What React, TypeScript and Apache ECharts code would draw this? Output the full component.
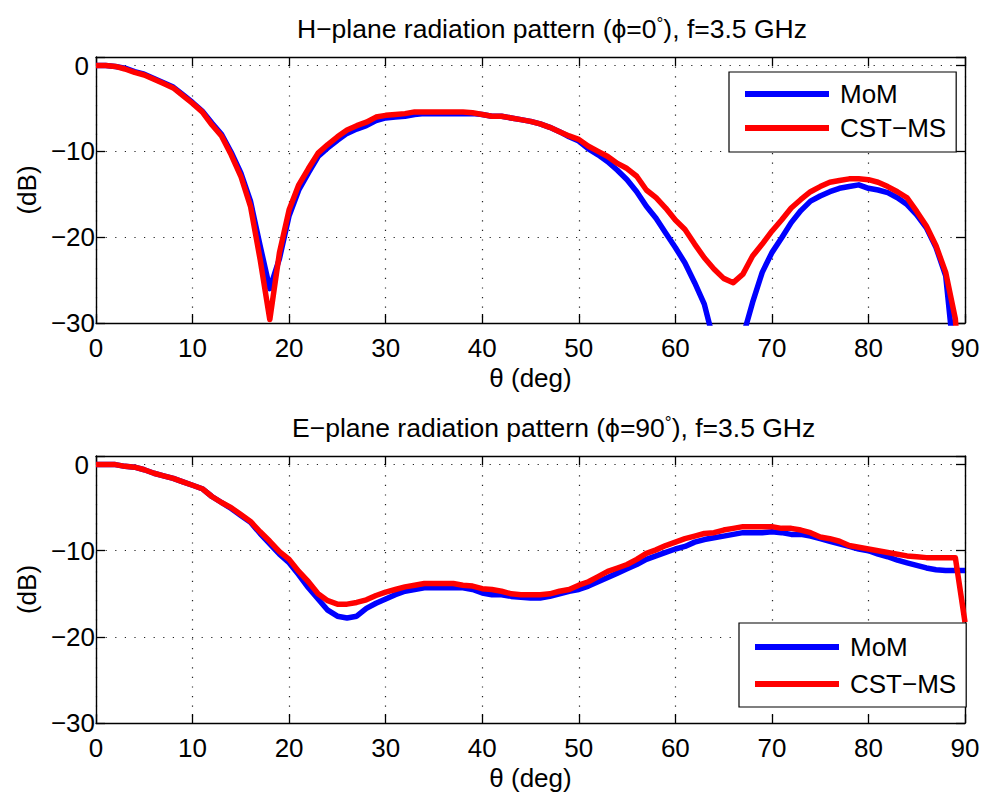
import React, { useEffect, useRef } from 'react';
import * as echarts from 'echarts';

const theta = [0, 1, 2, 3, 4, 5, 6, 7, 8, 9, 10, 11, 12, 13, 14, 15, 16, 17, 18, 19, 20, 21, 22, 23, 24, 25, 26, 27, 28, 29, 30, 31, 32, 33, 34, 35, 36, 37, 38, 39, 40, 41, 42, 43, 44, 45, 46, 47, 48, 49, 50, 51, 52, 53, 54, 55, 56, 57, 58, 59, 60, 61, 62, 63, 64, 65, 66, 67, 68, 69, 70, 71, 72, 73, 74, 75, 76, 77, 78, 79, 80, 81, 82, 83, 84, 85, 86, 87, 88, 89, 90];

// H-plane (phi = 0 deg)
const hMoM = [0, 0, -0.1, -0.3, -0.7, -1.0, -1.5, -2.0, -2.5, -3.4, -4.3, -5.3, -6.7, -8.0, -10.1, -12.5, -15.8, -21.0, -26.0, -22.5, -17.5, -14.5, -12.5, -10.6, -9.6, -8.7, -7.9, -7.4, -7.0, -6.4, -6.1, -6.0, -5.9, -5.7, -5.6, -5.6, -5.6, -5.6, -5.6, -5.6, -5.7, -5.9, -5.9, -6.1, -6.3, -6.5, -6.8, -7.2, -7.7, -8.3, -8.8, -9.7, -10.4, -11.2, -12.2, -13.3, -14.7, -16.4, -17.8, -19.5, -21.2, -23.0, -25.3, -27.8, -32.2, -38.0, -40.0, -31.6, -27.6, -24.1, -21.8, -20.1, -18.3, -16.9, -15.8, -15.2, -14.7, -14.3, -14.1, -13.9, -14.3, -14.5, -14.8, -15.4, -16.2, -17.4, -18.9, -21.2, -24.5, -35.5, -45.0];
const hCST = [0, 0, -0.1, -0.4, -0.8, -1.1, -1.6, -2.1, -2.6, -3.5, -4.4, -5.4, -6.9, -8.2, -10.4, -12.9, -16.4, -22.6, -29.6, -21.8, -16.8, -13.9, -12.0, -10.2, -9.2, -8.3, -7.5, -7.0, -6.6, -6.0, -5.8, -5.7, -5.6, -5.4, -5.4, -5.4, -5.4, -5.4, -5.4, -5.5, -5.7, -5.9, -5.9, -6.1, -6.3, -6.5, -6.8, -7.2, -7.7, -8.2, -8.6, -9.4, -10.0, -10.6, -11.4, -12.0, -12.9, -14.5, -15.4, -16.6, -18.0, -19.1, -20.8, -22.4, -23.7, -24.8, -25.3, -24.3, -22.2, -20.8, -19.3, -18.0, -16.6, -15.6, -14.7, -14.1, -13.6, -13.4, -13.2, -13.2, -13.3, -13.6, -14.1, -14.7, -15.4, -17.0, -18.7, -21.0, -24.1, -29.5, -45.0];

// E-plane (phi = 90 deg)
const eMoM = [0, 0, 0, -0.2, -0.3, -0.6, -1.0, -1.3, -1.6, -2.0, -2.4, -2.8, -3.7, -4.4, -5.1, -5.9, -6.7, -8.0, -9.2, -10.4, -11.4, -12.8, -14.3, -15.6, -16.9, -17.6, -17.8, -17.6, -16.7, -16.1, -15.6, -15.1, -14.7, -14.5, -14.3, -14.3, -14.3, -14.3, -14.3, -14.5, -14.9, -15.1, -15.1, -15.3, -15.4, -15.5, -15.5, -15.3, -15.0, -14.7, -14.5, -14.1, -13.6, -13.1, -12.6, -12.1, -11.6, -11.0, -10.6, -10.2, -9.8, -9.5, -9.0, -8.7, -8.5, -8.3, -8.1, -7.9, -7.9, -7.9, -7.8, -7.9, -8.1, -8.1, -8.3, -8.6, -8.9, -9.2, -9.5, -9.8, -10.0, -10.4, -10.7, -11.1, -11.4, -11.7, -12.0, -12.2, -12.3, -12.3, -12.3];
const eCST = [0, 0, 0, -0.2, -0.3, -0.6, -1.0, -1.3, -1.6, -2.0, -2.4, -2.8, -3.7, -4.4, -5.0, -5.8, -6.6, -7.8, -8.9, -10.1, -11.0, -12.4, -13.6, -15.0, -15.8, -16.2, -16.2, -16.0, -15.7, -15.2, -14.8, -14.5, -14.2, -14.0, -13.8, -13.8, -13.8, -13.8, -14.0, -14.1, -14.4, -14.5, -14.7, -15.0, -15.1, -15.1, -15.1, -15.0, -14.7, -14.5, -14.0, -13.6, -13.0, -12.4, -12.0, -11.6, -11.0, -10.3, -9.9, -9.4, -9.0, -8.6, -8.3, -8.0, -7.9, -7.6, -7.4, -7.2, -7.2, -7.2, -7.2, -7.4, -7.4, -7.6, -7.9, -8.4, -8.6, -8.9, -9.4, -9.6, -9.8, -10.0, -10.2, -10.4, -10.6, -10.7, -10.8, -10.8, -10.8, -10.8, -18.3];

const seriesNames = ['MoM', 'CST\u2212MS'];
const titles = [
  'H\u2212plane radiation pattern (\u03D5=0{s|\u00B0}), f=3.5 GHz',
  'E\u2212plane radiation pattern (\u03D5=90{s|\u00B0}), f=3.5 GHz',
];
const xName = '\u03B8 (deg)';
const yName = '(dB)';

const FONT = '"Liberation Sans", Arial, Helvetica, sans-serif';
const FS = 26;
const TFS = 26.5;

function pairs(vals: number[]) {
  return theta.map((t, i) => [t, vals[i]]);
}

export default function App() {
  const ref = useRef<HTMLDivElement>(null);
  useEffect(() => {
    if (!ref.current) return;
    const chart = echarts.init(ref.current, undefined, { renderer: 'svg' });
    const grids = [
      { left: 96, top: 57, width: 869, height: 266 },
      { left: 96, top: 456, width: 869, height: 267 },
    ];
    const dotted = { show: true, lineStyle: { color: '#222', width: 1.2, type: [1.2, 8.4] as any } };
    const axLine = { show: true, onZero: false, lineStyle: { color: '#000', width: 1.4 } };
    const tick = { show: true, inside: true, length: 9, lineStyle: { color: '#000', width: 1.3 } };
    const xAxes: any[] = [];
    const yAxes: any[] = [];
    [0, 1].forEach((g) => {
      xAxes.push({
        type: 'value', gridIndex: g, min: 0, max: 90, interval: 10, position: 'bottom',
        axisLine: axLine, axisTick: tick, splitLine: dotted,
        axisLabel: { color: '#000', fontSize: FS, fontFamily: FONT, margin: 12 },
        name: xName, nameLocation: 'middle', nameGap: 42,
        nameTextStyle: { color: '#000', fontSize: FS, fontFamily: FONT },
      });
      xAxes.push({
        type: 'value', gridIndex: g, min: 0, max: 90, interval: 10, position: 'top',
        axisLine: axLine, axisTick: tick, splitLine: { show: false }, axisLabel: { show: false },
      });
      yAxes.push({
        type: 'value', gridIndex: g, min: -30, max: 1, interval: 10, position: 'left',
        axisLine: axLine, axisTick: tick, splitLine: dotted,
        axisLabel: {
          color: '#000', fontSize: FS, fontFamily: FONT, margin: 1,
          formatter: (v: number) => (v > 0 ? '' : v === 0 ? '{z|0}' : '\u2212' + Math.abs(v)),
          rich: { z: { fontSize: FS, fontFamily: FONT, color: '#000', padding: [0, 6, 0, 0] } },
        },
        name: yName, nameLocation: 'middle', nameGap: 55,
        nameTextStyle: { color: '#000', fontSize: FS, fontFamily: FONT },
      });
      yAxes.push({
        type: 'value', gridIndex: g, min: -30, max: 1, interval: 10, position: 'right',
        axisLine: axLine, axisTick: tick, splitLine: { show: false }, axisLabel: { show: false },
      });
    });
    const mk = (name: string, color: string, vals: number[], g: number) => ({
      type: 'line', name, xAxisIndex: g * 2, yAxisIndex: g * 2, data: pairs(vals),
      showSymbol: false, symbol: 'none', color, clip: true,
      lineStyle: { color, width: 5.5, join: 'round' },
    });
    const legendBase = {
      orient: 'vertical', icon: 'rect', itemWidth: 84, itemHeight: 6,
      borderColor: '#000', borderWidth: 1.2, backgroundColor: '#fff', selectedMode: false,
      itemStyle: { borderWidth: 0 },
      textStyle: { color: '#000', fontSize: FS, fontFamily: FONT, padding: [0, 0, 0, 6] },
      data: seriesNames,
    };
    const titleStyle = {
      color: '#000', fontSize: TFS, fontFamily: FONT, fontWeight: 'normal',
      rich: { s: { fontSize: 17, lineHeight: 17, fontFamily: FONT, color: '#000', verticalAlign: 'top', padding: [0, 0, 18, 0] } },
    };
    chart.setOption({
      animation: false,
      backgroundColor: '#fff',
      title: [
        { text: titles[0], left: 297, top: 15, padding: 0, textStyle: titleStyle },
        { text: titles[1], left: 292, top: 414, padding: 0, textStyle: titleStyle },
      ],
      legend: [
        { ...legendBase, left: 729, top: 72, itemGap: 8, padding: [9, 10, 11, 16] },
        { ...legendBase, left: 739, top: 623, itemGap: 11, padding: [11, 10, 10, 16] },
      ],
      grid: grids,
      xAxis: xAxes,
      yAxis: yAxes,
      series: [
        mk(seriesNames[0], '#0000ff', hMoM, 0),
        mk(seriesNames[1], '#ff0000', hCST, 0),
        mk(seriesNames[0], '#0000ff', eMoM, 1),
        mk(seriesNames[1], '#ff0000', eCST, 1),
      ],
    });
    return () => chart.dispose();
  }, []);
  return <div ref={ref} style={{ position: 'absolute', left: 0, top: 0, width: 984, height: 793 }} />;
}
